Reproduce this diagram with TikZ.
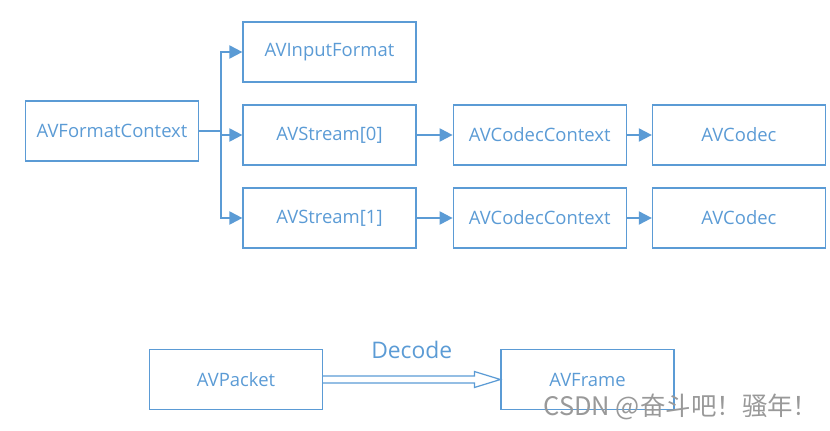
\documentclass[tikz,border=0pt]{standalone}
\usepackage{fontspec}
\setmainfont{Open Sans}
\newfontfamily\cjkfont{Noto Sans CJK SC}
\usetikzlibrary{arrows.meta,calc,positioning}
\definecolor{avblue}{RGB}{91,155,213}

\begin{document}
\begin{tikzpicture}[
    box/.style={draw=avblue, line width=0.7pt, text=avblue, minimum width=3.46cm, minimum height=1.2cm, font=\fontsize{10.5}{13}\selectfont},
    link/.style={avblue, line width=1.2pt, -{Triangle[length=0.26cm,width=0.26cm]}}
]
    \useasboundingbox (0,0) rectangle (16.6,-8.6);
    % TOP: format context and what it holds
    \node[box] (fmt) at (2.24,-2.62) {AVFormatContext};
    \node[box] (input) at (6.59,-1.04) {AVInputFormat};
    \node[box] (s0) at (6.59,-2.70) {AVStream[0]};
    \node[box] (s1) at (6.59,-4.36) {AVStream[1]};
    % codec chain of each stream
    \node[box, right=0.72cm of s0] (cc0) {AVCodecContext};
    \node[box, right=0.5cm of cc0] (c0) {AVCodec};
    \node[box, right=0.72cm of s1] (cc1) {AVCodecContext};
    \node[box, right=0.5cm of cc1] (c1) {AVCodec};
    % fork
    \coordinate (fork) at ($(fmt.east)+(0.43,0)$);
    \draw[avblue, line width=1.2pt] (fmt.east) -- (fork);
    \draw[link] (fork) |- (input.west);
    \draw[link] (fork) |- (s0.west);
    \draw[link] (fork) |- (s1.west);
    \draw[link] (s0) -- (cc0);
    \draw[link] (cc0) -- (c0);
    \draw[link] (s1) -- (cc1);
    \draw[link] (cc1) -- (c1);

    % BOTTOM: decoding
    \node[box] (pkt) at (4.72,-7.59) {AVPacket};
    \node[box] (frm) at (11.75,-7.59) {AVFrame};
    \draw[avblue, line width=0.7pt, line join=miter]
        ($(pkt.east)+(0,0.07)$) -- ($(frm.west)+(-0.52,0.07)$) -- ($(frm.west)+(-0.52,0.16)$)
        -- (frm.west) -- ($(frm.west)+(-0.52,-0.16)$) -- ($(frm.west)+(-0.52,-0.07)$)
        -- ($(pkt.east)+(0,-0.07)$);
    \node[text=avblue, font=\fontsize{13}{15}\selectfont] (dec) at ($(pkt.east)!0.5!(frm.west)+(0,0.59)$) {Decode};
    \node[text=black!40, font=\cjkfont\fontsize{14.5}{16}\selectfont] (mark) at (13.62,-8.14) {CSDN @奋斗吧！骚年！};
\end{tikzpicture}
\end{document}
